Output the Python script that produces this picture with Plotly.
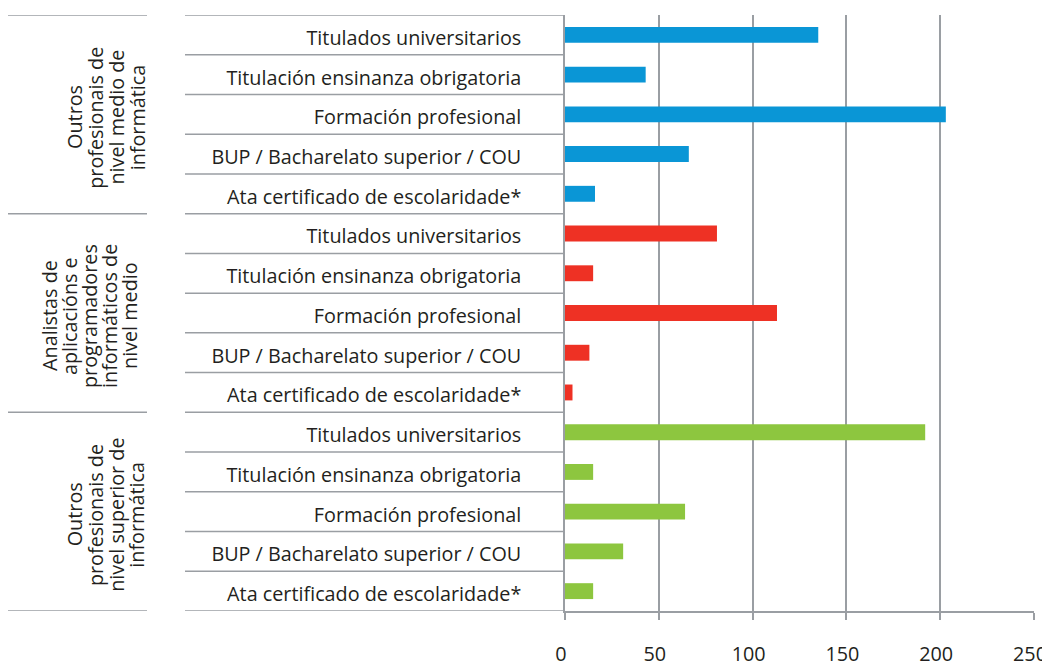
import plotly.graph_objects as go

groups = [
    ["Outros", "profesionais de", "nivel medio de", "informática"],
    ["Analistas de", "aplicacións e", "programadores", "informáticos de", "nivel medio"],
    ["Outros", "profesionais de", "nivel superior de", "informática"],
]
categories = [
    "Titulados universitarios",
    "Titulación ensinanza obrigatoria",
    "Formación profesional",
    "BUP / Bacharelato superior / COU",
    "Ata certificado de escolaridade*",
]
values_medio = [135, 43, 203, 66, 16]
values_analistas = [81, 15, 113, 13, 4]
values_superior = [192, 15, 64, 31, 15]
colors = ["#0A96D6", "#EE3124", "#8DC63F"]
x_ticks = [0, 50, 100, 150, 200, 250]

series = [values_medio, values_analistas, values_superior]
ncat = len(categories)
FONT = "Open Sans"
FS = 19.8
TXT = "#231F20"
GRID = "#9A9EA3"

# the page body has an 8px margin, so layout pixels are offset by 8
OFF = 8
W, H = 1050, 666
ml = 565 - OFF
mt = 15 - OFF
mr = W - (1034 - OFF)
mb = H - (611 - OFF)
pw = W - ml - mr

def px2paper(px):
    return (px - OFF - ml) / pw

fig = go.Figure()
labels = []
for g, vals in enumerate(series):
    ys = [g * ncat + i for i in range(ncat)]
    labels += categories
    fig.add_trace(go.Bar(
        x=vals, y=ys, orientation="h", width=0.4,
        marker=dict(color=colors[g], line=dict(width=0)),
        showlegend=False, hoverinfo="x",
    ))

total = len(labels)

shapes = []
for k in range(total + 1):
    shapes.append(dict(type="line", xref="paper", yref="y",
                       x0=px2paper(185), x1=0, y0=k - 0.5, y1=k - 0.5,
                       line=dict(color=GRID, width=1.5)))
for g in range(len(groups) + 1):
    shapes.append(dict(type="line", xref="paper", yref="y",
                       x0=px2paper(8), x1=px2paper(147),
                       y0=g * ncat - 0.5, y1=g * ncat - 0.5,
                       line=dict(color=GRID, width=1.5)))

annotations = []
pitches = [20.8, 20.0, 20.8]
last_centers = [137, 129, 137]
for g, lines in enumerate(groups):
    n = len(lines)
    for i, line in enumerate(lines):
        cx = last_centers[g] - (n - 1 - i) * pitches[g]
        annotations.append(dict(
            xref="paper", yref="y", x=px2paper(cx), y=g * ncat + (ncat - 1) / 2,
            text=line, textangle=-90, showarrow=False, yshift=-3,
            font=dict(family=FONT, size=FS, color=TXT),
            xanchor="center", yanchor="middle", align="center",
        ))

fig.update_layout(
    width=W, height=H,
    margin=dict(l=ml, r=mr, t=mt, b=mb, autoexpand=False),
    paper_bgcolor="white", plot_bgcolor="white",
    shapes=shapes, annotations=annotations,
    font=dict(family=FONT, size=FS, color=TXT),
    xaxis=dict(
        range=[0, 250], tickvals=x_ticks, ticktext=[str(v) for v in x_ticks],
        showgrid=True, gridcolor=GRID, gridwidth=1.5,
        showline=True, linecolor=GRID, linewidth=1.5,
        ticks="outside", ticklen=7, tickcolor=GRID, tickwidth=1.5,
        ticklabelstandoff=17, ticklabelshift=-4,
        zeroline=False, automargin=False,
        tickfont=dict(family=FONT, size=FS, color=TXT),
    ),
    yaxis=dict(
        range=[total - 0.5, -0.5],
        tickvals=list(range(total)), ticktext=labels,
        showgrid=False, zeroline=False, automargin=False,
        showline=True, linecolor=GRID, linewidth=1.5,
        ticks="", ticklabelstandoff=38, ticklabelshift=-3,
        tickfont=dict(family=FONT, size=FS, color=TXT),
    ),
)

fig.write_html("out.html")
